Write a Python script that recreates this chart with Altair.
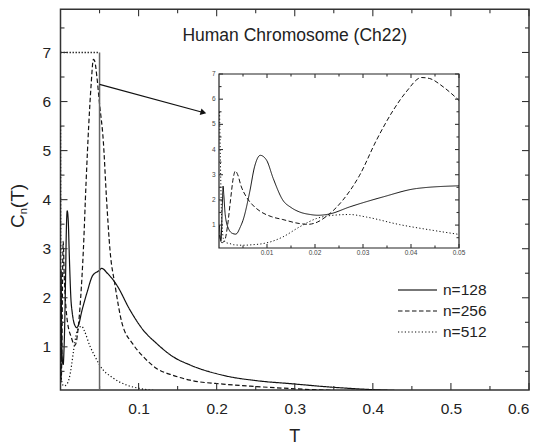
import altair as alt
import pandas as pd

# ---------------- data ----------------
SERIES = ["n=128", "n=256", "n=512"]

T128 = [0.0001, 0.0004, 0.0007, 0.00085, 0.001, 0.0013, 0.002, 0.0028, 0.0035, 0.0045,
        0.005, 0.0064, 0.0074, 0.0086, 0.0099, 0.0113, 0.0133, 0.015, 0.0168, 0.019,
        0.0206, 0.023, 0.0272, 0.0342, 0.0411, 0.05, 0.0527, 0.06, 0.072, 0.089,
        0.106, 0.123, 0.144, 0.166, 0.208, 0.251, 0.294, 0.354, 0.396, 0.45, 0.5, 0.6]
C128 = [1.0, 0.35, 1.8, 2.55, 2.2, 1.4, 0.85, 0.67, 0.64, 0.95,
        1.19, 2.32, 3.31, 3.77, 3.58, 2.85, 1.99, 1.7, 1.52, 1.42,
        1.39, 1.44, 1.72, 2.12, 2.45, 2.56, 2.60, 2.5, 2.26, 1.75,
        1.34, 1.07, 0.80, 0.63, 0.42, 0.31, 0.25, 0.17, 0.13, 0.1, 0.08, 0.06]

T256 = [0.0001, 0.0006, 0.0012, 0.0018, 0.0024, 0.003, 0.0034, 0.0039, 0.0046, 0.0057,
        0.007, 0.0088, 0.011, 0.0133, 0.0168, 0.0185, 0.0205, 0.0224, 0.0258, 0.0293,
        0.0328, 0.0363, 0.039, 0.0422, 0.0439, 0.0467, 0.05, 0.0548, 0.059, 0.0634,
        0.0698, 0.0785, 0.093, 0.106, 0.123, 0.144, 0.166, 0.208, 0.251, 0.294,
        0.35, 0.4, 0.5, 0.6]
C256 = [0.6, 0.3, 0.4, 1.0, 2.0, 2.9, 3.15, 3.0, 2.55, 2.12,
        1.8, 1.52, 1.33, 1.22, 1.06, 1.03, 1.12, 1.35, 1.99, 2.98,
        4.37, 5.56, 6.29, 6.86, 6.82, 6.49, 5.95, 5.2, 4.0, 2.97,
        2.26, 1.5, 1.05, 0.8, 0.56, 0.42, 0.32, 0.24, 0.19, 0.15,
        0.11, 0.09, 0.06, 0.05]

T512 = [0.00012, 0.0003, 0.0005, 0.0008, 0.001, 0.0015, 0.0022, 0.003, 0.005, 0.007,
        0.009, 0.011, 0.0133, 0.0168, 0.0203, 0.0238, 0.0272, 0.0307, 0.0376, 0.0446,
        0.05, 0.0676, 0.0848, 0.1018, 0.12, 0.15, 0.2, 0.3, 0.6]
C512 = [5.5, 3.5, 1.6, 0.6, 0.4, 0.3, 0.27, 0.22, 0.2, 0.22,
        0.26, 0.35, 0.53, 0.93, 1.26, 1.39, 1.42, 1.32, 1.02, 0.79,
        0.63, 0.36, 0.22, 0.15, 0.11, 0.08, 0.05, 0.03, 0.01]

TITLE = "Human Chromosome (Ch22)"
X_LABELS = [0.1, 0.2, 0.3, 0.4, 0.5, 0.6]
X_MINOR = [0.05, 0.15, 0.25, 0.35, 0.45, 0.55]
Y_LABELS = [1, 2, 3, 4, 5, 6, 7]
Y_MINOR = [0.5, 1.5, 2.5, 3.5, 4.5, 5.5, 6.5, 7.5]
IN_X_LABELS = [0.01, 0.02, 0.03, 0.04, 0.05]
IN_X_TEXT = ["0.01", "0.02", "0.03", "0.04", "0.05"]
IN_X_MINOR = [0.005, 0.015, 0.025, 0.035, 0.045]
IN_Y_LABELS = [1, 2, 3, 4, 5, 6, 7]
IN_Y_MINOR = [0.5, 1.5, 2.5, 3.5, 4.5, 5.5, 6.5]

# ---------------- layout ----------------
W = 468.5
H = 380.7
FONT = "Liberation Sans"
INK = "#111111"
FRAME = "#333333"

rows = []
for name, ts, cs in [("n=128", T128, C128), ("n=256", T256, C256), ("n=512", T512, C512)]:
    for t, c in zip(ts, cs):
        rows.append({"T": t, "C": c, "series": name})
df = pd.DataFrame(rows)

xs = alt.Scale(domain=[0, 0.6], nice=False, zero=False)
ys = alt.Scale(domain=[0.12, 7.88], nice=False, zero=False)
dash = alt.Scale(domain=SERIES, range=[[1, 0], [4.5, 2.5], [1.2, 2.2]])

AXX = alt.Axis(values=X_LABELS, format=".1f", ticks=False, domain=False, grid=False,
               labelPadding=11, labelFontSize=15.5, labelFont=FONT, labelColor="#222", title=None)
AXY = alt.Axis(values=Y_LABELS, format="d", ticks=False, domain=False, grid=False,
               labelPadding=10, labelFontSize=15.5, labelFont=FONT, labelColor="#222", title=None)

def MX(f):
    return alt.X(f, scale=xs, axis=AXX)

def MY(f):
    return alt.Y(f, scale=ys, axis=AXY)

lines = alt.Chart(df).mark_line(color=INK, strokeWidth=1.2, clip=True, interpolate="monotone").encode(
    x=MX("T:Q"), y=MY("C:Q"),
    strokeDash=alt.StrokeDash("series:N", scale=dash, legend=None),
)

def vrules(vals, y0, y1, xenc, color=FRAME):
    return alt.Chart(pd.DataFrame({"v": vals})).mark_rule(color=color, strokeWidth=1.1).encode(
        x=xenc("v:Q"), y=alt.value(y0), y2=alt.value(y1))

def hrules(vals, x0, x1, yenc, color=FRAME):
    return alt.Chart(pd.DataFrame({"v": vals})).mark_rule(color=color, strokeWidth=1.1).encode(
        y=yenc("v:Q"), x=alt.value(x0), x2=alt.value(x1))

MAJ, MIN = 7, 4
ticks = [
    vrules(X_LABELS, H, H - MAJ, MX), vrules(X_MINOR, H, H - MIN, MX),
    vrules(X_LABELS, 0, MAJ, MX), vrules(X_MINOR, 0, MIN, MX),
    hrules(Y_LABELS, 0, MAJ, MY), hrules(Y_MINOR, 0, MIN, MY),
    hrules(Y_LABELS, W, W - MAJ, MY), hrules(Y_MINOR, W, W - MIN, MY),
]

box_top = alt.Chart(pd.DataFrame({"x": [0.0], "x2": [0.05], "y": [7.0]})).mark_rule(
    color=FRAME, strokeWidth=1.5, strokeDash=[1.5, 1.5]).encode(x=MX("x:Q"), x2="x2:Q", y=MY("y:Q"))
box_right = alt.Chart(pd.DataFrame({"x": [0.05], "y": [0.12], "y2": [7.0]})).mark_rule(
    color="#666666", strokeWidth=1.5).encode(x=MX("x:Q"), y=MY("y:Q"), y2="y2:Q")

arrow = alt.Chart(pd.DataFrame({"x": [0.05], "y": [6.35], "x2": [0.184], "y2": [5.77]})).mark_rule(
    color=INK, strokeWidth=1.1).encode(x=MX("x:Q"), y=MY("y:Q"), x2="x2:Q", y2="y2:Q")
head = alt.Chart(pd.DataFrame({"x": [0.183], "y": [5.775]})).mark_point(
    shape="triangle-right", filled=True, color=INK, size=45, angle=15, opacity=1).encode(
    x=MX("x:Q"), y=MY("y:Q"))

# legend (drawn as marks, one row per series)
LEG_Y = [280.7, 301.7, 322.7]
LEG_COLOR = ["#777777", INK, INK]
LEG_WIDTH = [2.0, 1.2, 1.2]
legend_layers = []
for name, ly, lc, lw in zip(SERIES, LEG_Y, LEG_COLOR, LEG_WIDTH):
    d = pd.DataFrame({"series": [name]})
    legend_layers.append(alt.Chart(d).mark_rule(color=lc, strokeWidth=lw).encode(
        x=alt.value(337.5), x2=alt.value(376.5), y=alt.value(ly),
        strokeDash=alt.StrokeDash("series:N", scale=dash, legend=None)))
    legend_layers.append(alt.Chart(d).mark_text(
        font=FONT, fontSize=15.5, color="#222", align="left").encode(
        x=alt.value(382.5), y=alt.value(ly), text="series:N"))

title = alt.Chart(pd.DataFrame({"t": [TITLE]})).mark_text(
    font=FONT, fontSize=17.5, color="#222").encode(text="t:N", x=alt.value(W / 2), y=alt.value(26.2))
xtitle = alt.Chart(pd.DataFrame({"t": ["T"]})).mark_text(
    font=FONT, fontSize=18, color="#222").encode(text="t:N", x=alt.value(W / 2), y=alt.value(H + 46.5))
yt_c = alt.Chart(pd.DataFrame({"t": ["C"]})).mark_text(
    font=FONT, fontSize=19, color="#222", angle=270).encode(text="t:N", x=alt.value(-42.5), y=alt.value(211.9))
yt_n = alt.Chart(pd.DataFrame({"t": ["n"]})).mark_text(
    font=FONT, fontSize=11, color="#222", angle=270).encode(text="t:N", x=alt.value(-36.5), y=alt.value(202.0))
yt_t = alt.Chart(pd.DataFrame({"t": ["(T)"]})).mark_text(
    font=FONT, fontSize=19, color="#222", angle=270).encode(text="t:N", x=alt.value(-42.5), y=alt.value(186.7))

main = alt.layer(lines, *ticks, box_top, box_right, arrow, head, *legend_layers,
                 title, xtitle, yt_c, yt_n, yt_t)

# ---------------- inset ----------------
IL, IR, IT, IB = 158.5, 398.5, 64.7, 238.7
xin = alt.Scale(domain=[0, 0.05], range=[IL, IR], nice=False, zero=False)
yin = alt.Scale(domain=[0.09, 7], range=[IB, IT], nice=False, zero=False)

def IX(f):
    return alt.X(f, scale=xin, axis=None)

def IY(f):
    return alt.Y(f, scale=yin, axis=None)

in_frame = alt.Chart(pd.DataFrame({"x": [0.0], "x2": [0.05], "y": [0.09], "y2": [7.0]})).mark_rect(
    fill="white", stroke="#222222", strokeWidth=1.2).encode(x=IX("x:Q"), x2="x2:Q", y=IY("y:Q"), y2="y2:Q")

in_lines = alt.Chart(df).transform_filter(alt.datum.T <= 0.0501).mark_line(
    color=INK, strokeWidth=1.0, interpolate="monotone").encode(
    x=IX("T:Q"), y=IY("C:Q"),
    strokeDash=alt.StrokeDash("series:N", scale=dash, legend=None),
)

IMAJ, IMIN = 4, 2.5
in_ticks = [
    vrules(IN_X_LABELS, IB, IB - IMAJ, IX), vrules(IN_X_MINOR, IB, IB - IMIN, IX),
    vrules(IN_X_LABELS, IT, IT + IMAJ, IX), vrules(IN_X_MINOR, IT, IT + IMIN, IX),
    hrules(IN_Y_LABELS, IL, IL + IMAJ, IY), hrules(IN_Y_MINOR, IL, IL + IMIN, IY),
    hrules(IN_Y_LABELS, IR, IR - IMAJ, IY), hrules(IN_Y_MINOR, IR, IR - IMIN, IY),
]

in_xlab = alt.Chart(pd.DataFrame({"v": IN_X_LABELS, "s": IN_X_TEXT})).mark_text(
    font=FONT, fontSize=6.5, color="#444").encode(x=IX("v:Q"), y=alt.value(IB + 5), text="s:N")
in_ylab = alt.Chart(pd.DataFrame({"v": IN_Y_LABELS, "s": [str(v) for v in IN_Y_LABELS]})).mark_text(
    font=FONT, fontSize=6.5, color="#444", align="right").encode(
    y=IY("v:Q"), x=alt.value(IL - 3.5), text="s:N")

inset = alt.layer(in_frame, in_lines, *in_ticks, in_xlab, in_ylab)

chart = alt.layer(main, inset).resolve_scale(x="independent", y="independent").properties(
    width=W, height=H,
    autosize=alt.AutoSizeParams(type="none"),
    padding={"left": 52.5, "top": 1.3, "right": 3, "bottom": 54},
).configure_view(stroke=FRAME, strokeWidth=1.5)

chart.save("out.html", embed_options={"renderer": "svg", "actions": False})
